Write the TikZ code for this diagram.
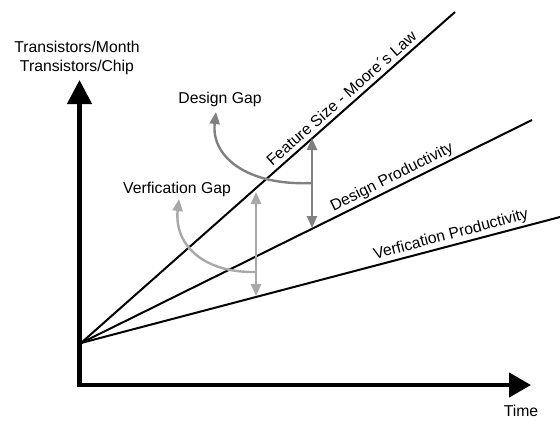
\documentclass[tikz,border=0pt]{standalone}
\usepackage{fontspec}
\setmainfont{Liberation Sans}
\usetikzlibrary{arrows.meta}
\definecolor{darkgap}{RGB}{128,128,128}
\definecolor{lightgap}{RGB}{168,168,168}
\begin{document}
\begin{tikzpicture}[x=1bp,y=-1bp,
  axis/.style={line width=4.5bp, line join=miter,
    {Triangle[length=24bp,width=24bp]}-{Triangle[length=22bp,width=24bp]}},
  trend/.style={line width=2bp},
  gapdesign/.style={line width=2.4bp, draw=darkgap, fill=darkgap},
  gapverif/.style={line width=2.4bp, draw=lightgap, fill=lightgap},
  gaparrow/.style={{Triangle[length=12bp,width=10bp]}-{Triangle[length=12bp,width=10bp]}},
  bendarrow/.style={-{Triangle[length=12bp,width=10bp]}},
  lbl/.style={font=\fontsize{15.8}{19}\selectfont, inner sep=2bp},
  biglbl/.style={font=\fontsize{15.8}{19}\selectfont, inner sep=1bp}
]
\useasboundingbox (0,0) rectangle (560,421);

% axes
\coordinate (ytop) at (79.5,80);
\coordinate (corner) at (79.5,385);
\coordinate (xend) at (531,385);
\draw[axis] (ytop) -- (corner) -- (xend);

\node[biglbl, align=center] (ylabel) at (77,58) {Transistors/Month\\Transistors/Chip};
\node[lbl] (xlabel) at (521,411) {Time};

% growth curves from a common start
\coordinate (o) at (81,343);
\coordinate (fs) at (455,12);
\coordinate (dp) at (532,120);
\coordinate (vp) at (560,217);
\draw[trend] (o) -- (fs) node[lbl, sloped, above, inner sep=4bp, pos=0.715] (fslabel) {Feature Size - Moore´s Law};
\draw[trend] (o) -- (dp) node[lbl, sloped, above, pos=0.7] (dplabel) {Design Productivity};
\draw[trend] (o) -- (vp) node[lbl, sloped, above, pos=0.778] (vplabel) {Verfication Productivity};

% design gap
\coordinate (dgtop) at (312,138);
\coordinate (dgbot) at (312,228);
\coordinate (dgmid) at (312,183);
\draw[gapdesign, gaparrow] (dgtop) -- (dgbot);
\node[biglbl] (dglabel) at (220,99) {Design Gap};
\coordinate (dgtip) at (216,112);
\draw[gapdesign, fill=none, bendarrow] (dgmid) .. controls (246,186) and (211,156) .. (dgtip);

% verification gap
\coordinate (vgtop) at (256,192);
\coordinate (vgbot) at (256,296);
\coordinate (vgmid) at (256,272);
\draw[gapverif, gaparrow] (vgtop) -- (vgbot);
\node[biglbl] (vglabel) at (177,189) {Verfication Gap};
\coordinate (vgtip) at (179,199);
\draw[gapverif, fill=none, bendarrow] (vgmid) .. controls (200,273) and (174,242) .. (vgtip);
\end{tikzpicture}
\end{document}
